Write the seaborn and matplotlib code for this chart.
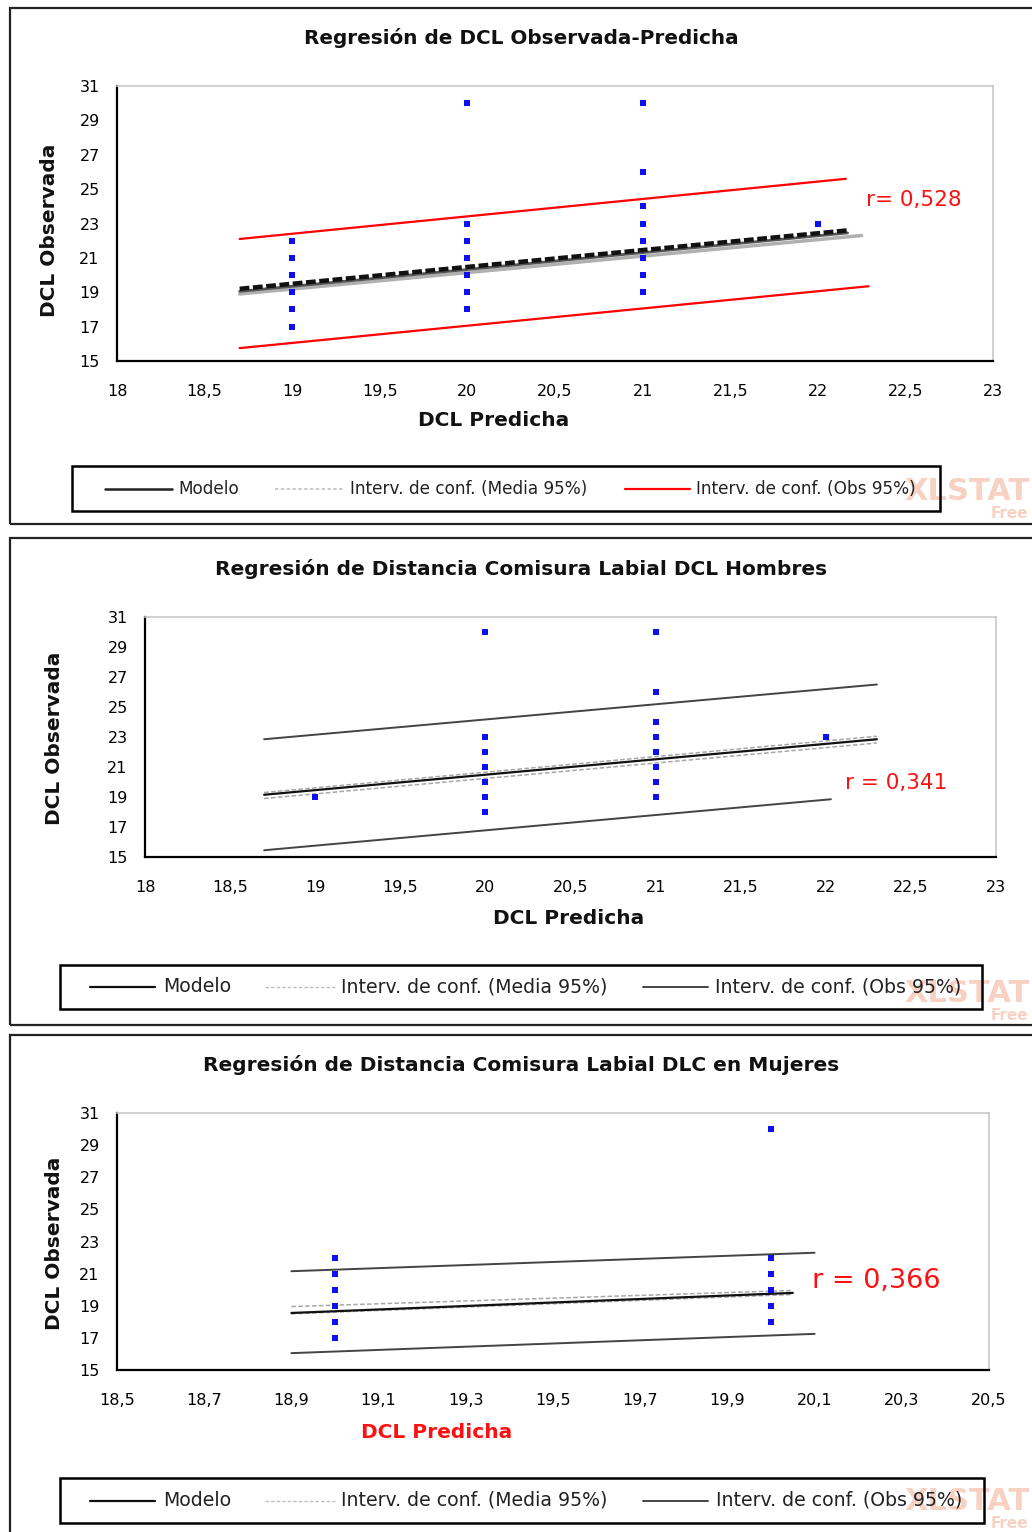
import seaborn as sns
import matplotlib.pyplot as plt
from matplotlib.patches import Rectangle
from matplotlib.lines import Line2D

# ---- data ----
# panel 1: DCL observada vs predicha
p1_x = [19, 19, 19, 19, 19, 19, 20, 20, 20, 20, 20, 20, 20,
        21, 21, 21, 21, 21, 21, 21, 21, 22]
p1_y = [22, 21, 20, 19, 18, 17, 30, 23, 22, 21, 20, 19, 18,
        30, 26, 24, 23, 22, 21, 20, 19, 23]
p1_model_x = [18.7, 22.17]
p1_model_y = [19.05, 22.45]
p1_mean_up_y = [19.2, 22.6]
p1_mean_lo_x = [18.7, 22.25]
p1_mean_lo_y = [18.9, 22.3]
p1_obs_up_x = [18.7, 22.16]
p1_obs_up_y = [22.1, 25.6]
p1_obs_lo_x = [18.7, 22.29]
p1_obs_lo_y = [15.75, 19.35]
p1_r = "r= 0,528"

# panel 2: hombres
p2_x = [19, 20, 20, 20, 20, 20, 20, 20,
        21, 21, 21, 21, 21, 21, 21, 21, 22]
p2_y = [19, 30, 23, 22, 21, 20, 19, 18,
        30, 26, 24, 23, 22, 21, 20, 19, 23]
p2_model_x = [18.7, 22.3]
p2_model_y = [19.15, 22.85]
p2_mean_up_y = [19.3, 23.05]
p2_mean_lo_y = [18.9, 22.6]
p2_obs_up_x = [18.7, 22.3]
p2_obs_up_y = [22.85, 26.5]
p2_obs_lo_x = [18.7, 22.03]
p2_obs_lo_y = [15.45, 18.85]
p2_r = "r = 0,341"

# panel 3: mujeres
p3_x = [19, 19, 19, 19, 19, 19, 20, 20, 20, 20, 20, 20]
p3_y = [22, 21, 20, 19, 18, 17, 30, 22, 21, 20, 19, 18]
p3_model_x = [18.9, 20.05]
p3_model_y = [18.55, 19.8]
p3_mean_up_y = [18.95, 19.95]
p3_mean_lo_y = [18.5, 19.7]
p3_obs_x = [18.9, 20.1]
p3_obs_up_y = [21.15, 22.3]
p3_obs_lo_y = [16.05, 17.25]
p3_r = "r = 0,366"

y_ticks = [15, 17, 19, 21, 23, 25, 27, 29, 31]
x_ticks_12 = [18, 18.5, 19, 19.5, 20, 20.5, 21, 21.5, 22, 22.5, 23]
x_ticks_3 = [18.5, 18.7, 18.9, 19.1, 19.3, 19.5, 19.7, 19.9, 20.1, 20.3, 20.5]

titles = ["Regresión de DCL Observada-Predicha",
          "Regresión de Distancia Comisura Labial DCL Hombres",
          "Regresión de Distancia Comisura Labial DLC en Mujeres"]
legend_labels = ["Modelo", "Interv. de conf. (Media 95%)", "Interv. de conf. (Obs 95%)"]

sns.set_style("white")
plt.rcParams['font.family'] = ['DejaVu Sans']

W, H = 1032, 1532
fig = plt.figure(figsize=(W / 100, H / 100), dpi=100)


def fx(px):
    return px / W


def fy(py):
    return 1 - py / H


def make_axes(left, top, right, bottom):
    return fig.add_axes([fx(left), fy(bottom), (right - left) / W, (bottom - top) / H])


def fmt(v):
    return ("%g" % v).replace(".", ",")


def style_axes(ax, xticks, xlim):
    ax.set_xlim(*xlim)
    ax.set_ylim(15, 31)
    ax.set_xticks(xticks)
    ax.set_xticklabels([fmt(v) for v in xticks])
    ax.set_yticks(y_ticks)
    ax.set_yticklabels([fmt(v) for v in y_ticks])
    for s in ["top", "right"]:
        ax.spines[s].set_color("#c8c8c8")
        ax.spines[s].set_linewidth(1.2)
    for s in ["left", "bottom"]:
        ax.spines[s].set_color("black")
        ax.spines[s].set_linewidth(1.6)
    ax.tick_params(axis="both", direction="inout", length=9, width=1.4,
                   colors="black", labelsize=11.5, pad=8)
    ax.tick_params(axis="x", pad=12)
    ax.set_xlabel("")
    ax.set_ylabel("")
    ax.grid(False)


def panel_frame(top, bottom):
    fig.add_artist(Rectangle((fx(10), fy(bottom)), fx(1040 - 10), (bottom - top) / H,
                             transform=fig.transFigure, fill=False,
                             edgecolor="#222222", linewidth=1.6))


def legend_box(left, top, right, bottom, colors, styles, widths, xs, fontsize):
    fig.add_artist(Rectangle((fx(left), fy(bottom)), (right - left) / W, (bottom - top) / H,
                             transform=fig.transFigure, fill=False,
                             edgecolor="black", linewidth=1.8))
    yc = (top + bottom) / 2
    for (x0, x1, xt), c, ls, lw, lab in zip(xs, colors, styles, widths, legend_labels):
        fig.add_artist(Line2D([fx(x0), fx(x1)], [fy(yc), fy(yc)], transform=fig.transFigure,
                              color=c, linestyle=ls, linewidth=lw))
        fig.text(fx(xt), fy(yc), lab, ha="left", va="center", fontsize=fontsize,
                 color="#222222")


def watermark(y):
    fig.text(fx(1030), fy(y), "XLSTAT", ha="right", va="center", fontsize=22,
             fontweight="bold", color="#f6c9b8", alpha=0.85, zorder=0)
    fig.text(fx(1028), fy(y + 23), "Free", ha="right", va="center", fontsize=11,
             fontweight="bold", color="#f6c9b8", alpha=0.85, zorder=0)


# ---------------- panel 1 ----------------
panel_frame(8, 524)
ax1 = make_axes(117, 86, 993, 361)
sns.lineplot(x=p1_obs_up_x, y=p1_obs_up_y, ax=ax1, color="#ff0000", linewidth=1.6)
sns.lineplot(x=p1_obs_lo_x, y=p1_obs_lo_y, ax=ax1, color="#ff0000", linewidth=1.6)
sns.lineplot(x=p1_mean_lo_x, y=p1_mean_lo_y, ax=ax1, color="#b0b0b0", linewidth=2.5)
sns.lineplot(x=p1_model_x, y=p1_model_y, ax=ax1, color="#555555", linewidth=2)
ax1.plot(p1_model_x, p1_mean_up_y, color="#111111", linewidth=3.2, linestyle=(0, (2.2, 0.8)))
sns.scatterplot(x=p1_x, y=p1_y, ax=ax1, color="#1010ee", marker="s", s=15,
                linewidth=0, zorder=5)
style_axes(ax1, x_ticks_12, (18, 23))
ax1.text(0.855, 0.585, p1_r, transform=ax1.transAxes, ha="left", va="center",
         color="#ff1010", fontsize=15.5)
fig.text(fx(521), fy(38), titles[0], ha="center", va="center", fontsize=14.4,
         fontweight="bold", color="#111111")
fig.text(fx(50), fy(230), "DCL Observada", rotation=90, ha="center", va="center",
         fontsize=14.5, fontweight="bold", color="#111111")
fig.text(fx(494), fy(420), "DCL Predicha", ha="center", va="center",
         fontsize=14.5, fontweight="bold", color="#111111")
legend_box(72, 466, 940, 511, ["#222222", "#c0c0c0", "#ff0000"],
           ["-", (0, (2, 1.5)), "-"], [1.8, 1.2, 1.6],
           [(105, 172, 178), (275, 345, 350), (625, 690, 696)], 12.2)
watermark(491)

# ---------------- panel 2 ----------------
panel_frame(538, 1025)
ax2 = make_axes(145, 617, 996, 857)
sns.lineplot(x=p2_obs_up_x, y=p2_obs_up_y, ax=ax2, color="#444444", linewidth=1.4)
sns.lineplot(x=p2_obs_lo_x, y=p2_obs_lo_y, ax=ax2, color="#444444", linewidth=1.4)
ax2.plot(p2_model_x, p2_mean_up_y, color="#a8a8a8", linewidth=1.1, linestyle=(0, (3, 1.5)))
ax2.plot(p2_model_x, p2_mean_lo_y, color="#a8a8a8", linewidth=1.1, linestyle=(0, (3, 1.5)))
sns.lineplot(x=p2_model_x, y=p2_model_y, ax=ax2, color="#111111", linewidth=1.6)
sns.scatterplot(x=p2_x, y=p2_y, ax=ax2, color="#1010ee", marker="s", s=15,
                linewidth=0, zorder=5)
style_axes(ax2, x_ticks_12, (18, 23))
ax2.text(0.823, 0.308, p2_r, transform=ax2.transAxes, ha="left", va="center",
         color="#ff1010", fontsize=15.5)
fig.text(fx(521), fy(569), titles[1], ha="center", va="center", fontsize=14.5,
         fontweight="bold", color="#111111")
fig.text(fx(55), fy(738), "DCL Observada", rotation=90, ha="center", va="center",
         fontsize=14.5, fontweight="bold", color="#111111")
fig.text(fx(569), fy(918), "DCL Predicha", ha="center", va="center",
         fontsize=14.5, fontweight="bold", color="#111111")
legend_box(60, 965, 982, 1009, ["#111111", "#c0c0c0", "#444444"],
           ["-", (0, (2.5, 1.5)), "-"], [1.6, 1.0, 1.4],
           [(90, 155, 163), (265, 335, 341), (643, 708, 715)], 13.6)
watermark(993)

# ---------------- panel 3 ----------------
panel_frame(1035, 1545)
ax3 = make_axes(117, 1113, 989, 1370)
sns.lineplot(x=p3_obs_x, y=p3_obs_up_y, ax=ax3, color="#444444", linewidth=1.4)
sns.lineplot(x=p3_obs_x, y=p3_obs_lo_y, ax=ax3, color="#444444", linewidth=1.4)
ax3.plot(p3_model_x, p3_mean_up_y, color="#a8a8a8", linewidth=1.1, linestyle=(0, (3, 1.5)))
ax3.plot(p3_model_x, p3_mean_lo_y, color="#a8a8a8", linewidth=1.1, linestyle=(0, (3, 1.5)))
sns.lineplot(x=p3_model_x, y=p3_model_y, ax=ax3, color="#111111", linewidth=1.6)
sns.scatterplot(x=p3_x, y=p3_y, ax=ax3, color="#1010ee", marker="s", s=15,
                linewidth=0, zorder=5)
style_axes(ax3, x_ticks_3, (18.5, 20.5))
ax3.text(0.797, 0.346, p3_r, transform=ax3.transAxes, ha="left", va="center",
         color="#ff1010", fontsize=19.5)
fig.text(fx(521), fy(1065), titles[2], ha="center", va="center", fontsize=14.5,
         fontweight="bold", color="#111111")
fig.text(fx(55), fy(1243), "DCL Observada", rotation=90, ha="center", va="center",
         fontsize=14.5, fontweight="bold", color="#111111")
fig.text(fx(437), fy(1433), "DCL Predicha", ha="center", va="center",
         fontsize=14.5, fontweight="bold", color="#ff1010")
legend_box(60, 1478, 984, 1523, ["#111111", "#c0c0c0", "#444444"],
           ["-", (0, (2.5, 1.5)), "-"], [1.6, 1.0, 1.4],
           [(90, 155, 163), (265, 335, 341), (643, 708, 716)], 13.6)
watermark(1501)

fig.savefig("out.png", dpi=100)
